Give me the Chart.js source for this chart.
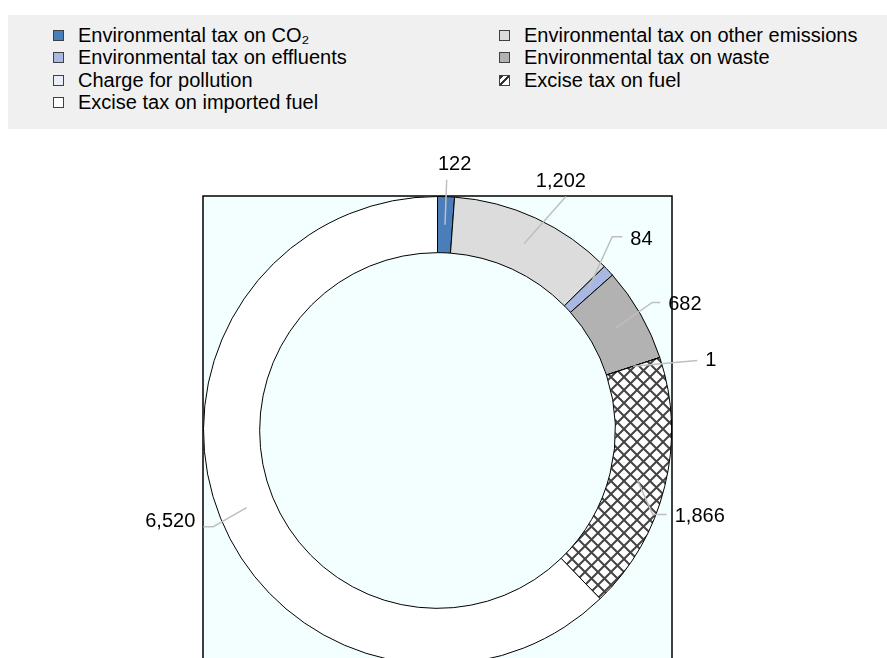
<!DOCTYPE html>
<html>
<head>
<meta charset="utf-8">
<script src="https://cdn.jsdelivr.net/npm/chart.js@4"></script>
<style>
  body { margin: 0; overflow: hidden; background: #fff; width: 887px; height: 658px; position: relative; }
  #legend {
    position: absolute; top: 15px; left: 8px; right: 0; height: 114px;
    background: #f0f0f0; box-sizing: border-box; padding: 9px 0 0 45px;
    display: grid; grid-template-columns: 446px 1fr; grid-auto-rows: 22.5px;
    font-family: "Liberation Sans", Arial, sans-serif; font-size: 20px; color: #000;
  }
  .item { display: flex; align-items: center; white-space: nowrap; }
  .box { width: 9px; height: 9px; border: 1px solid #404040; margin-right: 14px; flex: none; }
  #wrap { position: absolute; top: 0; left: 0; }
</style>
</head>
<body>
<div id="wrap"><canvas id="chart" width="887" height="680"></canvas></div>
<div id="legend"></div>
<script>
const categories = [
  'Environmental tax on CO₂',
  'Environmental tax on other emissions',
  'Environmental tax on effluents',
  'Environmental tax on waste',
  'Charge for pollution',
  'Excise tax on fuel',
  'Excise tax on imported fuel'
];
const values = [122, 1202, 84, 682, 1, 1866, 6520];
const colors = ['#4a7ebb', '#dcdcdc', '#a8b8e3', '#b2b2b2', '#eaeef8', 'hatch', '#ffffff'];

// crosshatch fill for the fuel slice
function makeHatch() {
  const c = document.createElement('canvas');
  c.width = 13; c.height = 13;
  const g = c.getContext('2d');
  g.fillStyle = '#ffffff';
  g.fillRect(0, 0, 13, 13);
  g.strokeStyle = '#444444';
  g.lineWidth = 2;
  g.beginPath();
  g.moveTo(-1, -1); g.lineTo(14, 14);
  g.moveTo(14, -1); g.lineTo(-1, 14);
  g.stroke();
  return g.createPattern(c, 'repeat');
}
const ctx = document.getElementById('chart').getContext('2d');
const hatch = makeHatch();
const fills = colors.map(c => c === 'hatch' ? hatch : c);

// legend, two columns like the original
const legend = document.getElementById('legend');
categories.forEach((name, i) => {
  const item = document.createElement('div');
  item.className = 'item';
  const box = document.createElement('span');
  box.className = 'box';
  if (colors[i] === 'hatch') {
    box.style.background = 'linear-gradient(135deg, #333 0 22%, #fff 22% 40%, #333 40% 58%, #fff 58%)';
  } else {
    box.style.background = colors[i];
  }
  item.appendChild(box);
  item.appendChild(document.createTextNode(name));
  legend.appendChild(item);
});

// light panel with a frame behind the doughnut
const panel = {
  id: 'panel',
  beforeDraw(chart) {
    const a = chart.chartArea;
    const g = chart.ctx;
    g.save();
    g.fillStyle = '#f3ffff';
    g.fillRect(a.left, a.top, a.right - a.left, a.bottom - a.top);
    g.strokeStyle = '#000';
    g.lineWidth = 1.5;
    g.strokeRect(a.left, a.top, a.right - a.left, a.bottom - a.top);
    g.restore();
  }
};

// leader lines and value labels
const leaders = {
  id: 'leaders',
  afterDatasetsDraw(chart, args, opts) {
    const g = chart.ctx;
    const meta = chart.getDatasetMeta(0);
    g.save();
    g.font = '20px "Liberation Sans", Arial, sans-serif';
    g.fillStyle = '#000';
    g.strokeStyle = '#bfbfbf';
    g.lineWidth = 1.5;
    meta.data.forEach((arc, i) => {
      const p = arc.getProps(['x', 'y', 'startAngle', 'endAngle', 'innerRadius', 'outerRadius'], true);
      const s = opts.spots[i];
      const mid = (p.startAngle + p.endAngle) / 2;
      const rMid = (p.innerRadius + p.outerRadius) / 2;
      const x0 = p.x + Math.cos(mid) * rMid;
      const y0 = p.y + Math.sin(mid) * rMid;
      const a1 = mid + s.da * Math.PI / 180;
      const r1 = p.outerRadius + s.ext;
      const x1 = p.x + Math.cos(a1) * r1;
      const y1 = p.y + Math.sin(a1) * r1;
      const dir = x1 >= p.x ? 1 : -1;
      const x2 = x1 + dir * s.tail;
      g.beginPath();
      g.moveTo(x0, y0);
      g.lineTo(x1, y1);
      if (s.tail) g.lineTo(x2, y1);
      g.stroke();
      const txt = values[i].toLocaleString('en-US');
      if (s.top) {
        g.textAlign = 'center';
        g.textBaseline = 'middle';
        g.fillText(txt, x1 + s.dx, y1 - 15);
      } else {
        g.textAlign = dir > 0 ? 'left' : 'right';
        g.textBaseline = 'middle';
        g.fillText(txt, x2 + dir * 8, y1 + s.dy);
      }
    });
    g.restore();
  }
};

new Chart(ctx, {
  type: 'doughnut',
  data: {
    labels: categories,
    datasets: [{
      data: values,
      backgroundColor: fills,
      borderColor: '#000',
      borderWidth: 1
    }]
  },
  options: {
    responsive: false,
    animation: false,
    devicePixelRatio: 1,
    cutout: '76%',
    layout: { padding: { top: 196, left: 203, right: 215, bottom: 15 } },
    plugins: {
      legend: { display: false },
      tooltip: { enabled: false },
      leaders: {
        spots: [
          { ext: 17, da: 0, tail: 0, top: true, dx: 8 },
          { ext: 33, da: 3.9, tail: 0, top: true, dx: -5 },
          { ext: 27, da: -4.9, tail: 10, dy: 3 },
          { ext: 16, da: -0.9, tail: 8, dy: 2 },
          { ext: 35, da: 3.1, tail: 0, dy: 0 },
          { ext: -3, da: 7.4, tail: 14, dy: 2 },
          { ext: 10, da: -1.2, tail: 10, dy: -5 }
        ]
      }
    }
  },
  plugins: [panel, leaders]
});
</script>
</body>
</html>
